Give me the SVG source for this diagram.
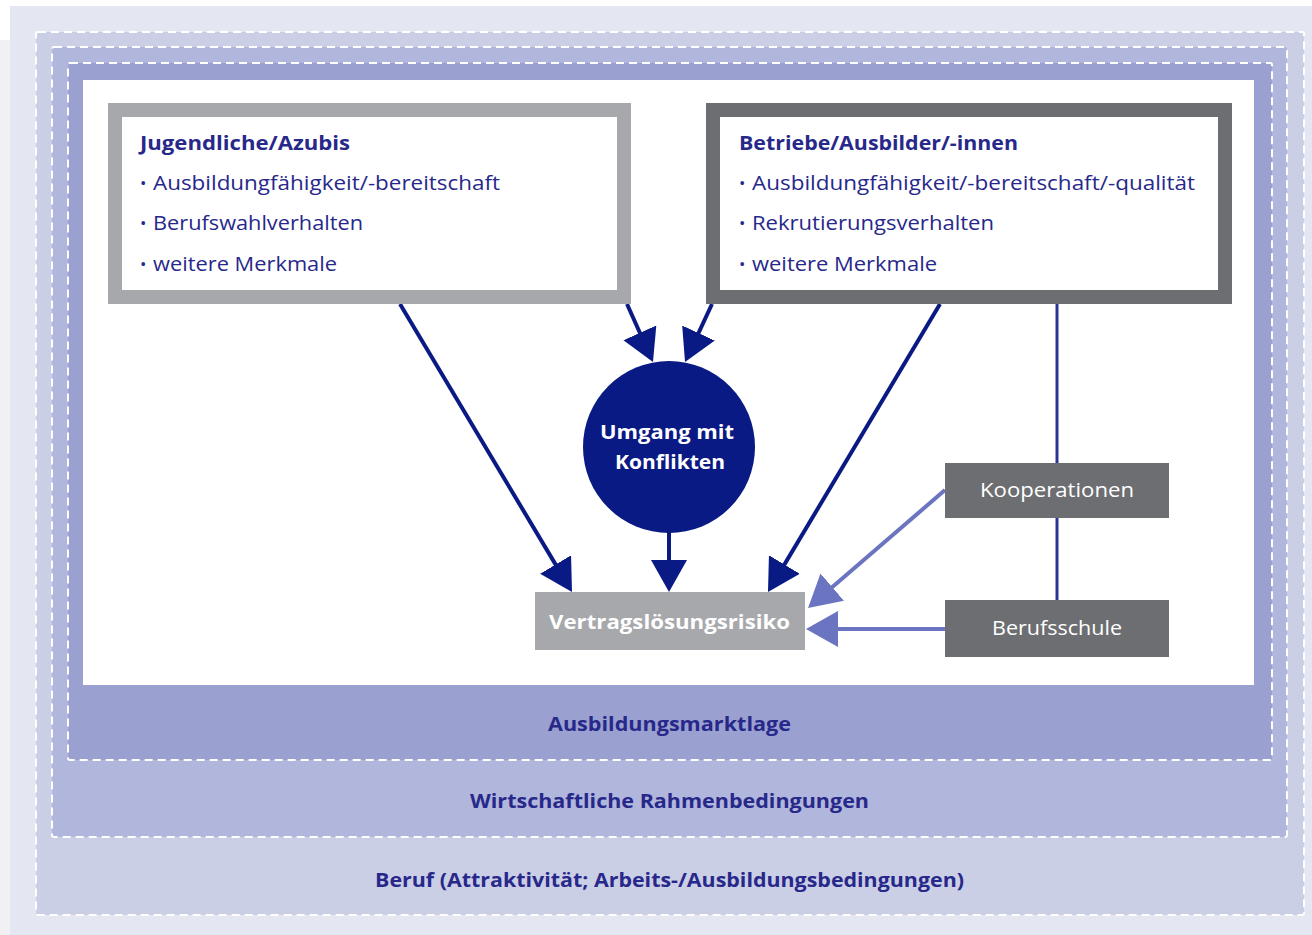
<svg xmlns="http://www.w3.org/2000/svg" width="1312" height="935" viewBox="0 0 1312 935">
<defs>
<style>
.frame{stroke:#ffffff;stroke-width:2;stroke-dasharray:8,5}
.t{font-family:"Open Sans","Noto Sans","Liberation Sans",sans-serif;font-size:20px;fill:#27288a}
.b{font-weight:bold}
.w{fill:#ffffff}
.bl{font-size:17px}
.dk{stroke:#0a1a84;stroke-width:4;fill:none}
.lt{stroke:#6b74c0;stroke-width:4;fill:none}
.ln{stroke:#2b3595;stroke-width:3;fill:none}
</style>
<marker id="ah" markerUnits="userSpaceOnUse" markerWidth="40" markerHeight="40" refX="24" refY="18" orient="auto"><path d="M0,0 L32,18 L0,36 z" fill="#0a1a84"/></marker>
<marker id="ahl" markerUnits="userSpaceOnUse" markerWidth="40" markerHeight="40" refX="24" refY="18" orient="auto"><path d="M0,0 L32,18 L0,36 z" fill="#6b74c0"/></marker>
</defs>
<rect x="0" y="0" width="1312" height="935" fill="#ffffff"/>
<rect x="0" y="40" width="10" height="895" fill="#f1f1f3"/>
<rect x="10" y="6" width="1302" height="929" fill="#e4e6f2"/>
<rect class="frame" x="36" y="32" width="1268" height="883" fill="#cbcfe6" rx="2"/>
<rect class="frame" x="52" y="47" width="1235" height="790" fill="#b1b6dc" rx="2"/>
<rect class="frame" x="68" y="63" width="1204" height="697" fill="#9aa1d0" rx="2"/>
<rect x="83" y="80" width="1171" height="605" fill="#ffffff"/>
<text class="t b" x="548" y="731" textLength="243" lengthAdjust="spacingAndGlyphs">Ausbildungsmarktlage</text>
<text class="t b" x="470" y="808" textLength="399" lengthAdjust="spacingAndGlyphs">Wirtschaftliche Rahmenbedingungen</text>
<text class="t b" x="375" y="887" textLength="589" lengthAdjust="spacingAndGlyphs">Beruf (Attraktivität; Arbeits-/Ausbildungsbedingungen)</text>

<g id="connectors">
<line class="ln" x1="1057" y1="304" x2="1057" y2="463"/>
<line class="ln" x1="1057" y1="518" x2="1057" y2="600"/>
<line class="dk" x1="400" y1="304" x2="567.9" y2="585.1" marker-end="url(#ah)"/>
<line class="dk" x1="627" y1="304" x2="649.7" y2="354.7" marker-end="url(#ah)"/>
<line class="dk" x1="712" y1="304" x2="688.4" y2="354.8" marker-end="url(#ah)"/>
<line class="dk" x1="669" y1="530" x2="669" y2="584" marker-end="url(#ah)"/>
<line class="dk" x1="940" y1="304" x2="772.1" y2="585.1" marker-end="url(#ah)"/>
<line class="lt" x1="945" y1="490" x2="814.1" y2="602.8" marker-end="url(#ahl)"/>
<line class="lt" x1="945" y1="629" x2="814" y2="629" marker-end="url(#ahl)"/>
</g>

<g id="jugendliche">
<rect x="115" y="110" width="509" height="187" fill="#ffffff" stroke="#a7a8ab" stroke-width="14"/>
<text class="t b" x="140" y="150" textLength="210" lengthAdjust="spacingAndGlyphs">Jugendliche/Azubis</text>
<text class="t bl" x="140" y="189">•</text>
<text class="t" x="153" y="190" textLength="347" lengthAdjust="spacingAndGlyphs">Ausbildungfähigkeit/-bereitschaft</text>
<text class="t bl" x="140" y="229">•</text>
<text class="t" x="153" y="230" textLength="210" lengthAdjust="spacingAndGlyphs">Berufswahlverhalten</text>
<text class="t bl" x="140" y="270">•</text>
<text class="t" x="153" y="271" textLength="184" lengthAdjust="spacingAndGlyphs">weitere Merkmale</text>
</g>

<g id="betriebe">
<rect x="713" y="110" width="512" height="187" fill="#ffffff" stroke="#6d6e71" stroke-width="14"/>
<text class="t b" x="739" y="150" textLength="279" lengthAdjust="spacingAndGlyphs">Betriebe/Ausbilder/-innen</text>
<text class="t bl" x="739" y="189">•</text>
<text class="t" x="752" y="190" textLength="443" lengthAdjust="spacingAndGlyphs">Ausbildungfähigkeit/-bereitschaft/-qualität</text>
<text class="t bl" x="739" y="229">•</text>
<text class="t" x="752" y="230" textLength="242" lengthAdjust="spacingAndGlyphs">Rekrutierungsverhalten</text>
<text class="t bl" x="739" y="270">•</text>
<text class="t" x="752" y="271" textLength="185" lengthAdjust="spacingAndGlyphs">weitere Merkmale</text>
</g>

<g id="konflikte">
<circle cx="669" cy="447" r="86" fill="#0a1a84"/>
<text class="t b w" x="600" y="439" textLength="134" lengthAdjust="spacingAndGlyphs">Umgang mit</text>
<text class="t b w" x="615" y="469" textLength="110" lengthAdjust="spacingAndGlyphs">Konflikten</text>
</g>

<g id="vertrag">
<rect x="535" y="592" width="270" height="58" fill="#a7a8ab"/>
<text class="t b w" x="549" y="629" textLength="241" lengthAdjust="spacingAndGlyphs">Vertragslösungsrisiko</text>
</g>

<g id="kooperationen">
<rect x="945" y="463" width="224" height="55" fill="#6d6e71"/>
<text class="t w" x="980" y="497" textLength="154" lengthAdjust="spacingAndGlyphs">Kooperationen</text>
</g>

<g id="berufsschule">
<rect x="945" y="600" width="224" height="57" fill="#6d6e71"/>
<text class="t w" x="992" y="635" textLength="130" lengthAdjust="spacingAndGlyphs">Berufsschule</text>
</g>
</svg>
